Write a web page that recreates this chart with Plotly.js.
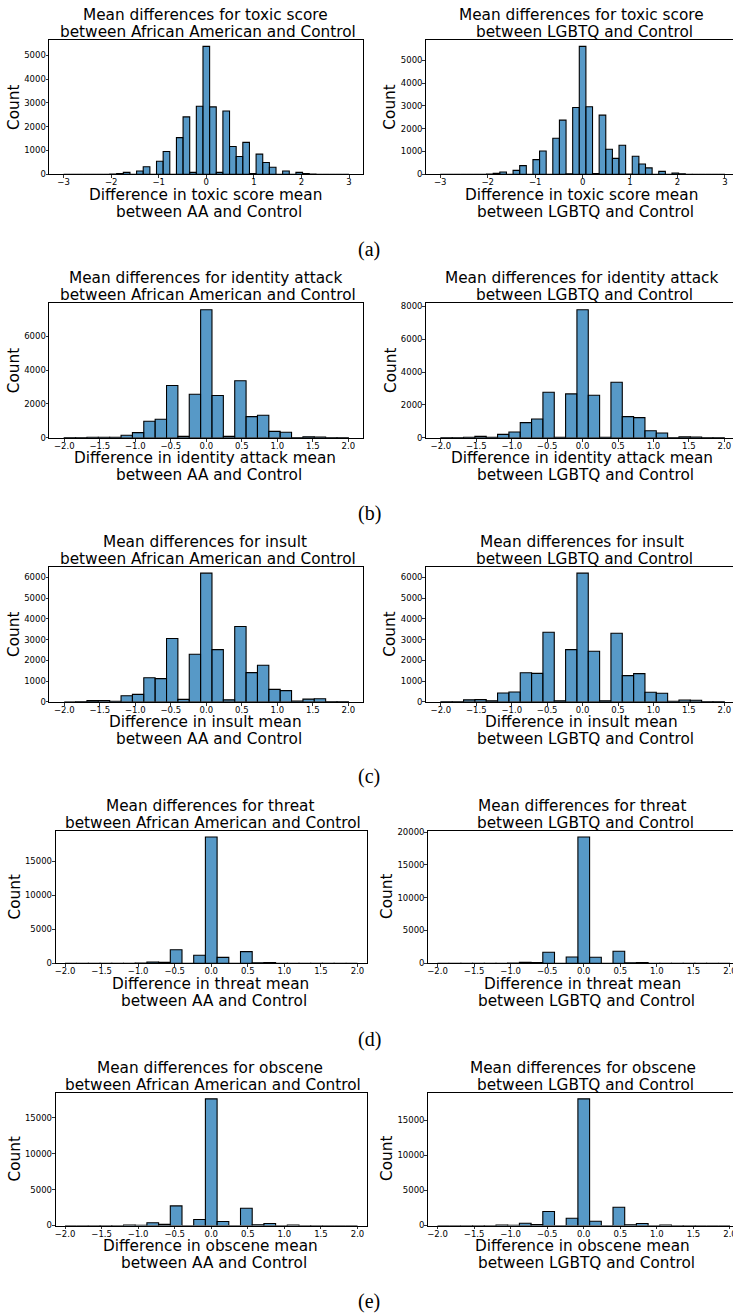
<!DOCTYPE html>
<html><head><meta charset="utf-8">
<script src="https://cdn.plot.ly/plotly-3.0.1.min.js"></script>
<style>html,body{margin:0;padding:0;background:#fff;} #chart{width:733px;height:1316px;}</style>
</head><body><div id="chart"></div>
<script>
// ---------------- DATA ----------------
const metrics = ['toxic score', 'identity attack', 'insult', 'threat', 'obscene'];
const groupLong = ['African American', 'LGBTQ'];
const groupShort = ['AA', 'LGBTQ'];
const captions = ['(a)', '(b)', '(c)', '(d)', '(e)'];

// histogram bins
const toxicBinStart = -3, toxicBinCount = 43, toxicBinEnd = 3;
const otherBinStart = -2, otherBinCount = 25, otherBinEnd = 2;

// counts per bin
const toxicAA = [0,0,0,0,0, 0,0,10,30,80, 0,140,320,0,550, 960,0,1540,2410,80, 2860,5370,2830,80,2660,
  1170,745,1340,30,845, 495,296,0,140,0, 80,30,10,0,0, 0,0,0];
const toxicLGBTQ = [0,0,0,0,0, 0,0,10,40,100, 0,170,380,0,645, 1025,0,1580,2375,20, 2930,5610,2960,30,2595,
  1100,700,1275,10,790, 455,280,0,130,0, 60,20,5,0,0, 0,0,0];
const identityAA = [10,10,20,20,30,145,300,970,1090,3090,80,2575,7580,2495,80,3370,1250,1330,375,320,10,60,40,10,10];
const identityLGBTQ = [5,10,30,80,30,205,350,920,1140,2770,30,2670,7800,2590,30,3380,1285,1225,420,285,10,50,40,10,5];
const insultAA = [0,10,50,60,20,290,355,1160,1115,3050,110,2290,6210,2515,90,3630,1405,1760,595,535,30,125,140,10,5];
const insultLGBTQ = [5,10,90,100,40,420,470,1400,1370,3355,40,2515,6210,2435,40,3305,1260,1355,455,405,20,80,70,10,5];
const threatAA = [0,5,10,10,10,10,20,200,130,2000,0,1180,18560,870,0,1710,80,110,10,10,5,5,5,5,0];
const threatLGBTQ = [0,5,10,10,10,10,20,140,100,1680,0,970,19240,920,0,1830,80,120,10,10,5,5,5,5,0];
const obsceneAA = [0,0,5,10,10,60,20,390,150,2730,0,830,17640,560,0,2410,100,280,10,50,5,5,0,0,0];
const obsceneLGBTQ = [0,0,5,10,10,60,20,330,150,1990,0,1040,18030,615,0,2600,100,280,10,50,5,5,0,0,0];

const countsByRow = [[toxicAA, toxicLGBTQ], [identityAA, identityLGBTQ], [insultAA, insultLGBTQ],
  [threatAA, threatLGBTQ], [obsceneAA, obsceneLGBTQ]];

// ---------------- LAYOUT (pixels) ----------------
const W = 733, H = 1316;
const rowTop = [40, 303.3, 566.7, 830.7, 1092.5];
const rowBottom = [174.3, 437.7, 701.7, 963.3, 1225.5];
const leftX = [[49.3, 363.3], [49.3, 363.3], [49.3, 363.3], [55.5, 367], [55.5, 367]];
const rightX = [[426, 739.2], [426, 739.2], [426, 739.2], [428, 739.5], [428, 739.5]]; // full (clipped at W)
const halfRange = [3.3, 2.21, 2.21, 2.13, 2.13];
const yDtick = [1000, 2000, 1000, 5000, 5000];
const countOffset = [35.5, 35.5, 35.5, 41, 41];
const captionY = [249, 513, 776, 1039, 1301];

const FONT = 'DejaVu Sans';
const fx = p => p / W, fy = p => 1 - p / H;

const traces = [];
const layout = {
  width: W, height: H, margin: {l: 0, r: 0, t: 0, b: 0},
  paper_bgcolor: '#fff', plot_bgcolor: '#fff', showlegend: false, bargap: 0,
  font: {family: FONT, color: '#000'},
  annotations: []
};

function ann(text, x, y, size, opts) {
  layout.annotations.push(Object.assign({
    text: text, x: fx(x), y: fy(y), xref: 'paper', yref: 'paper',
    xanchor: 'center', yanchor: 'middle', showarrow: false,
    font: {family: FONT, size: size, color: '#000'}
  }, opts || {}));
}

for (let r = 0; r < 5; r++) {
  const toxic = r === 0;
  const bStart = toxic ? toxicBinStart : otherBinStart;
  const bEnd = toxic ? toxicBinEnd : otherBinEnd;
  const nB = toxic ? toxicBinCount : otherBinCount;
  const bw = (bEnd - bStart) / nB;
  for (let c = 0; c < 2; c++) {
    const n = r * 2 + c + 1;
    const xs = n === 1 ? '' : String(n);
    const counts = countsByRow[r][c];
    const centers = counts.map((_, k) => bStart + (k + 0.5) * bw);
    traces.push({
      type: 'bar', x: centers, y: counts, width: bw,
      xaxis: 'x' + xs, yaxis: 'y' + xs, hoverinfo: 'skip',
      marker: {color: 'rgba(31,119,180,0.75)', line: {color: '#000', width: 1.1}}
    });
    const full = c === 0 ? leftX[r] : rightX[r];
    const x0 = full[0], x1 = Math.min(full[1], W);
    const hr = halfRange[r];
    const rangeEnd = -hr + 2 * hr * (x1 - x0) / (full[1] - full[0]);
    const ymax = Math.max.apply(null, counts) * 1.05;
    const common = {
      showgrid: false, zeroline: false, showline: true, linecolor: '#000', linewidth: 1,
      ticks: 'outside', ticklen: 2.8, tickwidth: 0.8, tickcolor: '#000',
      tickfont: {family: FONT, size: 8.5, color: '#000'}, fixedrange: true,
      ticklabeloverflow: 'allow'
    };
    layout['xaxis' + xs] = Object.assign({}, common, {
      domain: [fx(x0), fx(x1)], anchor: 'y' + xs, range: [-hr, rangeEnd],
      tick0: 0, dtick: toxic ? 1 : 0.5, tickformat: toxic ? 'd' : '.1f', mirror: true,
      ticklabelstandoff: -3
    });
    layout['yaxis' + xs] = Object.assign({}, common, {
      domain: [fy(rowBottom[r]), fy(rowTop[r])], anchor: 'x' + xs, range: [0, ymax],
      tick0: 0, dtick: yDtick[r], tickformat: 'd', mirror: c === 0,
      ticklabelstandoff: -2
    });
    const cx = (full[0] + full[1]) / 2 - 1;
    ann('Mean differences for ' + metrics[r], cx, rowTop[r] - 25, 15.3);
    ann('between ' + groupLong[c] + ' and Control', cx + 3, rowTop[r] - 8, 15.3);
    ann('Difference in ' + metrics[r] + ' mean', cx, rowBottom[r] + 20.5, 15.3);
    ann('between ' + groupShort[c] + ' and Control', cx + 4, rowBottom[r] + 37.5, 15.3);
    ann('Count', x0 - countOffset[r], (rowTop[r] + rowBottom[r]) / 2, 15.3, {textangle: -90});
  }
  ann(captions[r], 369, captionY[r], 20, {font: {family: 'Liberation Serif', size: 20, color: '#000'}});
}

Plotly.newPlot('chart', traces, layout, {staticPlot: true, displayModeBar: false});
</script></body></html>
